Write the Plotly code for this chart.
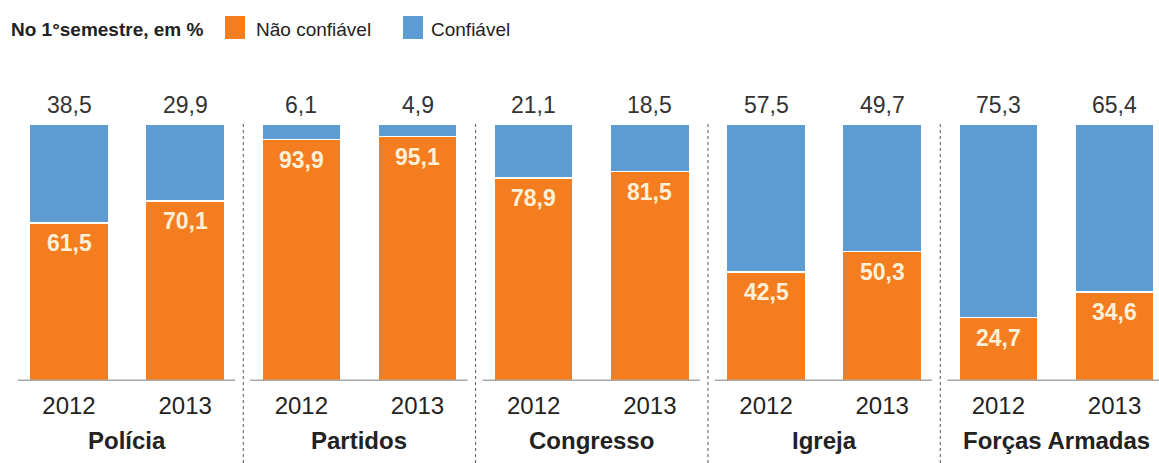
import plotly.graph_objects as go

groups = ["Polícia", "Partidos", "Congresso", "Igreja", "Forças Armadas"]
years = ["2012", "2013"]
nao_confiavel = [61.5, 70.1, 93.9, 95.1, 78.9, 81.5, 42.5, 50.3, 24.7, 34.6]
confiavel = [38.5, 29.9, 6.1, 4.9, 21.1, 18.5, 57.5, 49.7, 75.3, 65.4]

ORANGE = "#f47d20"
BLUE = "#5d9cd3"
FONT = "Liberation Sans"
W, H = 1159, 463
TOP, BOT = 124, 82
plot_h = H - TOP - BOT

def fmt(v):
    return f"{v:.1f}".replace(".", ",")

def py2paper(py):
    return (H - BOT - py) / plot_h

xs = list(range(len(nao_confiavel)))
ticktext = [years[i % 2] for i in xs]

fig = go.Figure()
fig.add_trace(go.Bar(x=xs, y=nao_confiavel, name="Não confiável", marker=dict(color=ORANGE, line=dict(color="white", width=1.5)), width=0.68, hoverinfo="skip"))
fig.add_trace(go.Bar(x=xs, y=confiavel, name="Confiável", marker=dict(color=BLUE, line=dict(color="white", width=1.5)), width=0.68, hoverinfo="skip"))

annotations = []
for i in xs:
    annotations.append(dict(x=i, y=100, xref="x", yref="y", text=fmt(confiavel[i]), showarrow=False,
                            yanchor="middle", yshift=19, font=dict(family=FONT, size=23, color="#333333")))
    annotations.append(dict(x=i, y=nao_confiavel[i], xref="x", yref="y", text="<b>" + fmt(nao_confiavel[i]) + "</b>", showarrow=False,
                            yanchor="middle", yshift=-20, font=dict(family=FONT, size=23, color="#fdf0d6")))

shapes = []
for g, name in enumerate(groups):
    c = 2 * g + 0.5
    annotations.append(dict(x=c, y=py2paper(440), xref="x", yref="paper", text="<b>" + name + "</b>", showarrow=False,
                            yanchor="middle", font=dict(family=FONT, size=24, color="#222222")))
    shapes.append(dict(type="line", xref="x", yref="y", x0=c - 0.94, x1=c + 0.93, y0=0, y1=0,
                       line=dict(color="#a8a8a8", width=3), layer="above"))
    if g < len(groups) - 1:
        shapes.append(dict(type="line", xref="x", yref="paper", x0=c + 1.0, x1=c + 1.0, y0=py2paper(463), y1=1.0,
                           line=dict(color="#555555", width=1, dash="dot")))

# legend drawn manually
annotations.append(dict(x=9 / W, y=py2paper(29), xref="paper", yref="paper", text="<b>No 1°semestre, em %</b>", showarrow=False,
                        xanchor="left", yanchor="middle", font=dict(family=FONT, size=19, color="#222222")))
for sq_x, txt_x, col, label in [(225, 254, ORANGE, "Não confiável"), (403, 429, BLUE, "Confiável")]:
    shapes.append(dict(type="rect", xref="paper", yref="paper", x0=sq_x / W, x1=(sq_x + 20) / W,
                       y0=py2paper(39), y1=py2paper(16), fillcolor=col, line=dict(width=0)))
    annotations.append(dict(x=txt_x / W, y=py2paper(29), xref="paper", yref="paper", text=label, showarrow=False,
                            xanchor="left", yanchor="middle", font=dict(family=FONT, size=19, color="#222222")))

step = 116.17
r0 = -69 / step
r1 = r0 + W / step

fig.update_layout(
    width=W, height=H,
    barmode="stack",
    showlegend=False,
    margin=dict(l=0, r=0, t=TOP, b=BOT),
    paper_bgcolor="white", plot_bgcolor="white",
    xaxis=dict(range=[r0, r1], tickmode="array", tickvals=xs, ticktext=ticktext, showgrid=False, zeroline=False,
               showline=False, ticks="outside", ticklen=3, tickcolor="rgba(0,0,0,0)",
               tickfont=dict(family=FONT, size=24, color="#222222")),
    yaxis=dict(range=[0, 100], visible=False, showgrid=False, zeroline=False),
    annotations=annotations,
    shapes=shapes,
)

fig.write_html("out.html")
